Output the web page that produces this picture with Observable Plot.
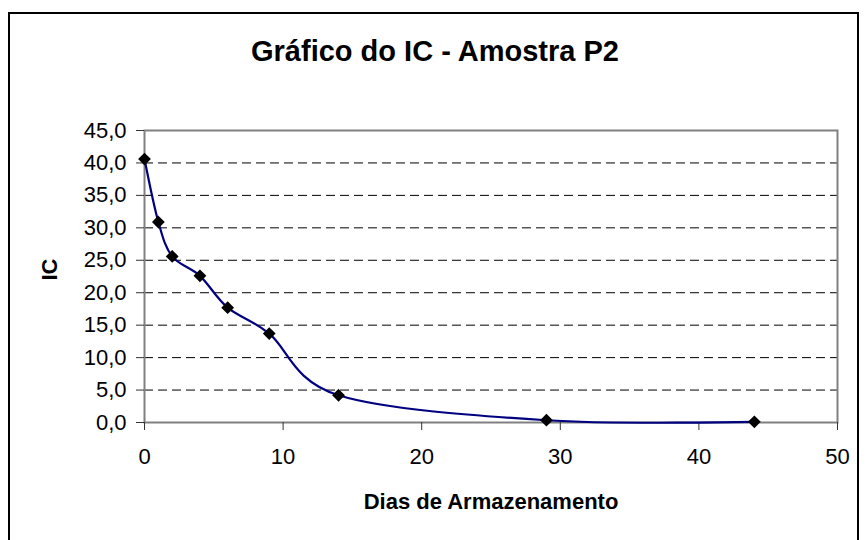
<!DOCTYPE html>
<html>
<head>
<meta charset="utf-8">
<script src="https://cdn.jsdelivr.net/npm/d3@7"></script>
<script src="https://cdn.jsdelivr.net/npm/@observablehq/plot@0.6"></script>
<style>
  html, body { margin: 0; padding: 0; background: #fff; }
  #wrap { position: relative; width: 867px; height: 540px; overflow: hidden; }
  #border { position: absolute; left: 8px; top: 12px; width: 851px; height: 600px; border: 2px solid #000; box-sizing: border-box; }
  #chart { position: absolute; left: 0; top: 0; }
</style>
</head>
<body>
<div id="wrap"><div id="border"></div><div id="chart"></div></div>
<script>
const days = [0, 1, 2, 4, 6, 9, 14, 29, 44];
const ic = [40.6, 30.9, 25.6, 22.6, 17.7, 13.7, 4.2, 0.35, 0.1];
const xTicks = [0, 10, 20, 30, 40, 50];
const yTicks = [0, 5, 10, 15, 20, 25, 30, 35, 40, 45];
const gridValues = [5, 10, 15, 20, 25, 30, 35, 40];
const titleText = "Gráfico do IC - Amostra P2";
const xTitle = "Dias de Armazenamento";
const yTitle = "IC";

const data = days.map((d, i) => ({x: d, y: ic[i]}));
const fmt = d => d.toFixed(1).replace(".", ",");

const chart = Plot.plot({
  width: 867,
  height: 540,
  marginLeft: 144,
  marginRight: 30,
  marginTop: 130,
  marginBottom: 118,
  x: {domain: [0, 50]},
  y: {domain: [0, 45]},
  style: {fontFamily: "'Liberation Sans', Arial, sans-serif", fontSize: "22px", color: "#000", background: "transparent"},
  marks: [
    Plot.gridY(gridValues, {stroke: "#000", strokeOpacity: 1, strokeWidth: 1, strokeDasharray: "9,5"}),
    Plot.frame({stroke: "#808080", strokeWidth: 2}),
    Plot.axisX({ticks: xTicks, tickSize: 8, tickPadding: 18, label: null, tickFormat: d => String(d), stroke: "#333"}),
    Plot.axisY({ticks: yTicks, tickSize: 8, tickPadding: 10, label: null, tickFormat: fmt, stroke: "#333"}),
    Plot.line(data, {x: "x", y: "y", curve: "cardinal", stroke: "#000080", strokeWidth: 2.2}),
    Plot.dot(data, {x: "x", y: "y", symbol: "diamond2", r: 4.8, fill: "#000", stroke: "#000"}),
    Plot.text([titleText], {frameAnchor: "top", lineAnchor: "bottom", dx: -56, dy: -70, fontSize: 29, fontWeight: "bold"}),
    Plot.text([xTitle], {frameAnchor: "bottom", lineAnchor: "bottom", dy: 86, fontSize: 22, fontWeight: "bold"}),
    Plot.text([yTitle], {frameAnchor: "left", rotate: -90, dx: -95, dy: 4, fontSize: 22, fontWeight: "bold"})
  ]
});
document.getElementById("chart").appendChild(chart);
</script>
</body>
</html>
